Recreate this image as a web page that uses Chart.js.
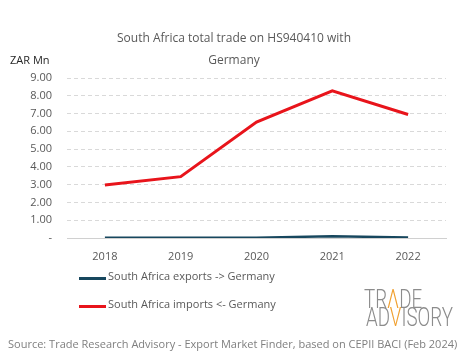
<!DOCTYPE html>
<html><head><meta charset="utf-8">
<script src="https://cdn.jsdelivr.net/npm/chart.js@4"></script>
<style>
html,body{margin:0;padding:0;background:#fff;}
#wrap{position:relative;width:465px;height:359px;font-family:"Open Sans",sans-serif;}
#c{position:absolute;left:0;top:0;}
.t{position:absolute;white-space:nowrap;color:#595959;}
.leg{position:absolute;left:79px;width:27px;height:3px;}
.logo{position:absolute;font-family:Roboto,"Liberation Sans",sans-serif;font-weight:300;color:#8c8c8c;transform-origin:0 0;transform:scaleX(0.75);white-space:nowrap;line-height:1;}
.o{color:#f0a030;}
</style></head><body>
<div id="wrap">
<canvas id="c" width="465" height="359"></canvas>
<div class="t" style="left:0;width:468px;text-align:center;top:27px;font-size:12px;line-height:22px;">South Africa total trade on HS940410 with<br>Germany</div>
<div class="t" style="left:10px;top:52px;font-size:11px;color:#262626;">ZAR Mn</div>
<div class="leg" style="top:277px;background:#17475e;"></div>
<div class="t" style="left:108px;top:268px;font-size:11px;" id="l0"></div>
<div class="leg" style="top:305px;background:#e8141b;"></div>
<div class="t" style="left:108px;top:296px;font-size:11px;" id="l1"></div>
<div class="logo" style="left:364px;top:287px;font-size:25px;">TR<span class="o">Λ</span>DE</div>
<div class="logo" style="left:366px;top:305px;font-size:25px;">AD<span class="o">V</span>ISORY</div>
<div class="t" style="left:8px;top:336px;font-size:11px;color:#7f7f7f;">Source: Trade Research Advisory - Export Market Finder, based on CEPII BACI (Feb 2024)</div>
</div>
<script>
const years = ["2018","2019","2020","2021","2022"];
const exportsDE = [0.01, 0.01, 0.02, 0.10, 0.03];
const importsDE = [2.98, 3.45, 6.52, 8.28, 6.95];
const seriesNames = ["South Africa exports -> Germany","South Africa imports <- Germany"];
const yTicks = [0,1,2,3,4,5,6,7,8,9];

document.getElementById('l0').textContent = seriesNames[0];
document.getElementById('l1').textContent = seriesNames[1];

const tickFont = {family:'"Open Sans", sans-serif', size:11};
new Chart(document.getElementById('c'), {
  type:'line',
  data:{labels:years, datasets:[
    {label:seriesNames[0], data:exportsDE, borderColor:'#17475e', borderWidth:2.5, pointRadius:0, tension:0},
    {label:seriesNames[1], data:importsDE, borderColor:'#e8141b', borderWidth:3, pointRadius:0, tension:0}
  ]},
  options:{
    responsive:false, animation:false, maintainAspectRatio:false,
    layout:{padding:{left:0,right:19,top:78,bottom:91}},
    plugins:{legend:{display:false}, title:{display:false}, tooltip:{enabled:false}},
    scales:{
      x:{offset:true,
         grid:{display:false, drawTicks:false},
         border:{display:true,color:'#d0d0d0',width:1},
         ticks:{color:'#595959',font:tickFont,padding:12},
         afterFit:s=>{s.height=30;}},
      y:{min:0,max:9,
         afterBuildTicks:s=>{s.ticks=yTicks.map(v=>({value:v}));},
         grid:{color:'#d9d9d9',drawTicks:false,lineWidth:1},
         border:{display:false,dash:[4,3]},
         ticks:{color:'#595959',font:tickFont,padding:15,callback:v=>v===0?'-':v.toFixed(2)},
         afterFit:s=>{s.width=67;}}
    }
  }
});
</script>
</body></html>
